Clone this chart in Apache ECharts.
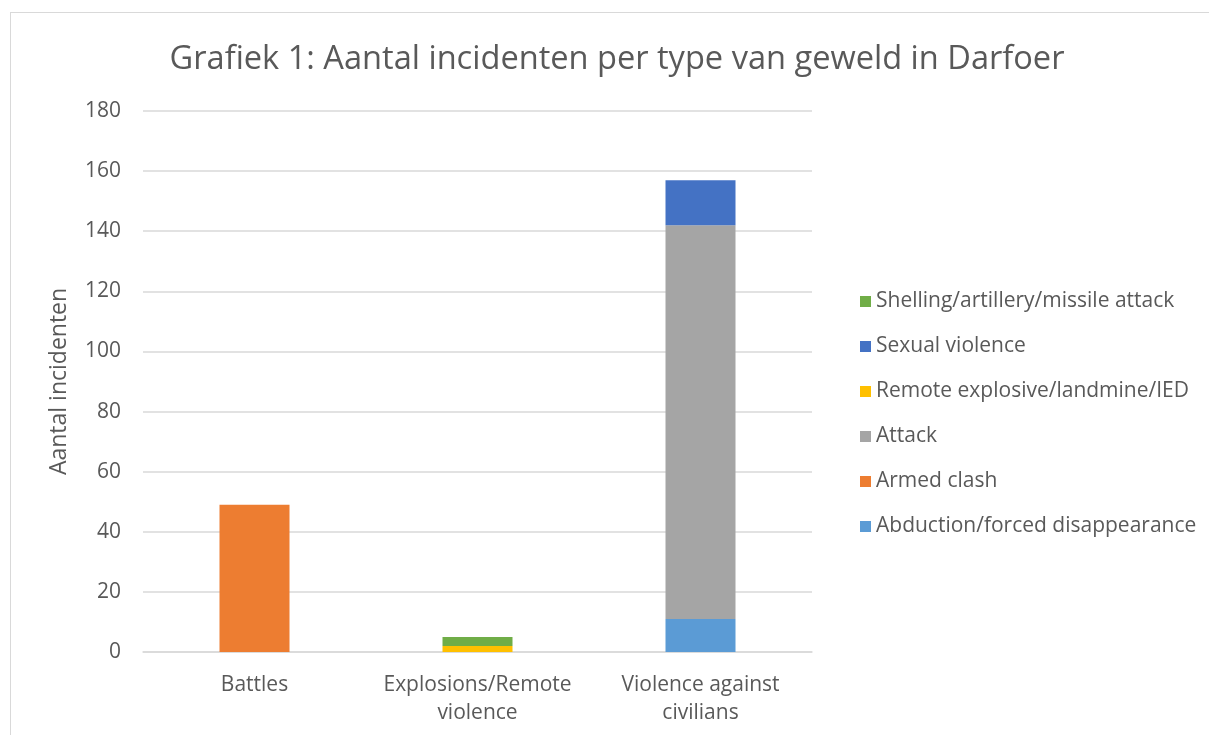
<!DOCTYPE html>
<html><head><meta charset="utf-8">
<script src="https://cdn.jsdelivr.net/npm/echarts@6/dist/echarts.min.js"></script>
<style>
html,body{margin:0;padding:0;background:#fff;}
#frame{position:absolute;left:10px;top:12px;width:1220px;height:740px;border:1px solid #d9d9d9;box-sizing:border-box;}
#c{position:absolute;left:0;top:0;width:1209px;height:735px;}
</style></head>
<body><div id="frame"></div><div id="c"></div>
<script>
const categories = ['Battles', 'Explosions/Remote\nviolence', 'Violence against\ncivilians'];
const abduction = [null, null, 11];
const armedClash = [49, null, null];
const attack = [null, null, 131];
const remoteExplosive = [null, 2, null];
const sexualViolence = [null, null, 15];
const shelling = [null, 3, null];
const yTicks = [0, 20, 40, 60, 80, 100, 120, 140, 160, 180];

const font = '"Open Sans", sans-serif';
const txt = '#595959';
const mk = (name, data, color) => ({name, type:'bar', stack:'s', data, barWidth:70, itemStyle:{color}});
const chart = echarts.init(document.getElementById('c'));
chart.setOption({
  animation:false,
  textStyle:{fontFamily:font},
  title:{text:'Grafiek 1: Aantal incidenten per type van geweld in Darfoer', left:612, top:38, textAlign:'center',
    textStyle:{fontSize:32.6, fontWeight:'normal', color:txt, fontFamily:font}},
  grid:{left:143, right:397, top:111, bottom:83},
  legend:{orient:'vertical', left:855, top:286, itemWidth:11, itemHeight:11, itemGap:24, icon:'rect',
    textStyle:{fontSize:21, color:txt, fontFamily:font},
    data:['Shelling/artillery/missile attack','Sexual violence','Remote explosive/landmine/IED','Attack','Armed clash','Abduction/forced disappearance']},
  xAxis:{type:'category', data:categories, axisTick:{show:false},
    axisLine:{lineStyle:{color:'#d9d9d9', width:1.5}},
    axisLabel:{interval:0, fontSize:21, color:txt, margin:19, lineHeight:28, fontFamily:font}},
  yAxis:{type:'value', min:yTicks[0], max:yTicks[yTicks.length-1], interval:20,
    name:'Aantal incidenten', nameLocation:'middle', nameGap:72, nameRotate:90,
    nameTextStyle:{fontSize:23, color:txt, fontFamily:font},
    axisLine:{show:false}, axisTick:{show:false},
    axisLabel:{fontSize:21, color:txt, margin:22, fontFamily:font},
    splitLine:{lineStyle:{color:'#d9d9d9', width:1.5}}},
  series:[
    mk('Abduction/forced disappearance', abduction, '#5B9BD5'),
    mk('Armed clash', armedClash, '#ED7D31'),
    mk('Attack', attack, '#A5A5A5'),
    mk('Remote explosive/landmine/IED', remoteExplosive, '#FFC000'),
    mk('Sexual violence', sexualViolence, '#4472C4'),
    mk('Shelling/artillery/missile attack', shelling, '#70AD47')
  ]
});
</script></body></html>
